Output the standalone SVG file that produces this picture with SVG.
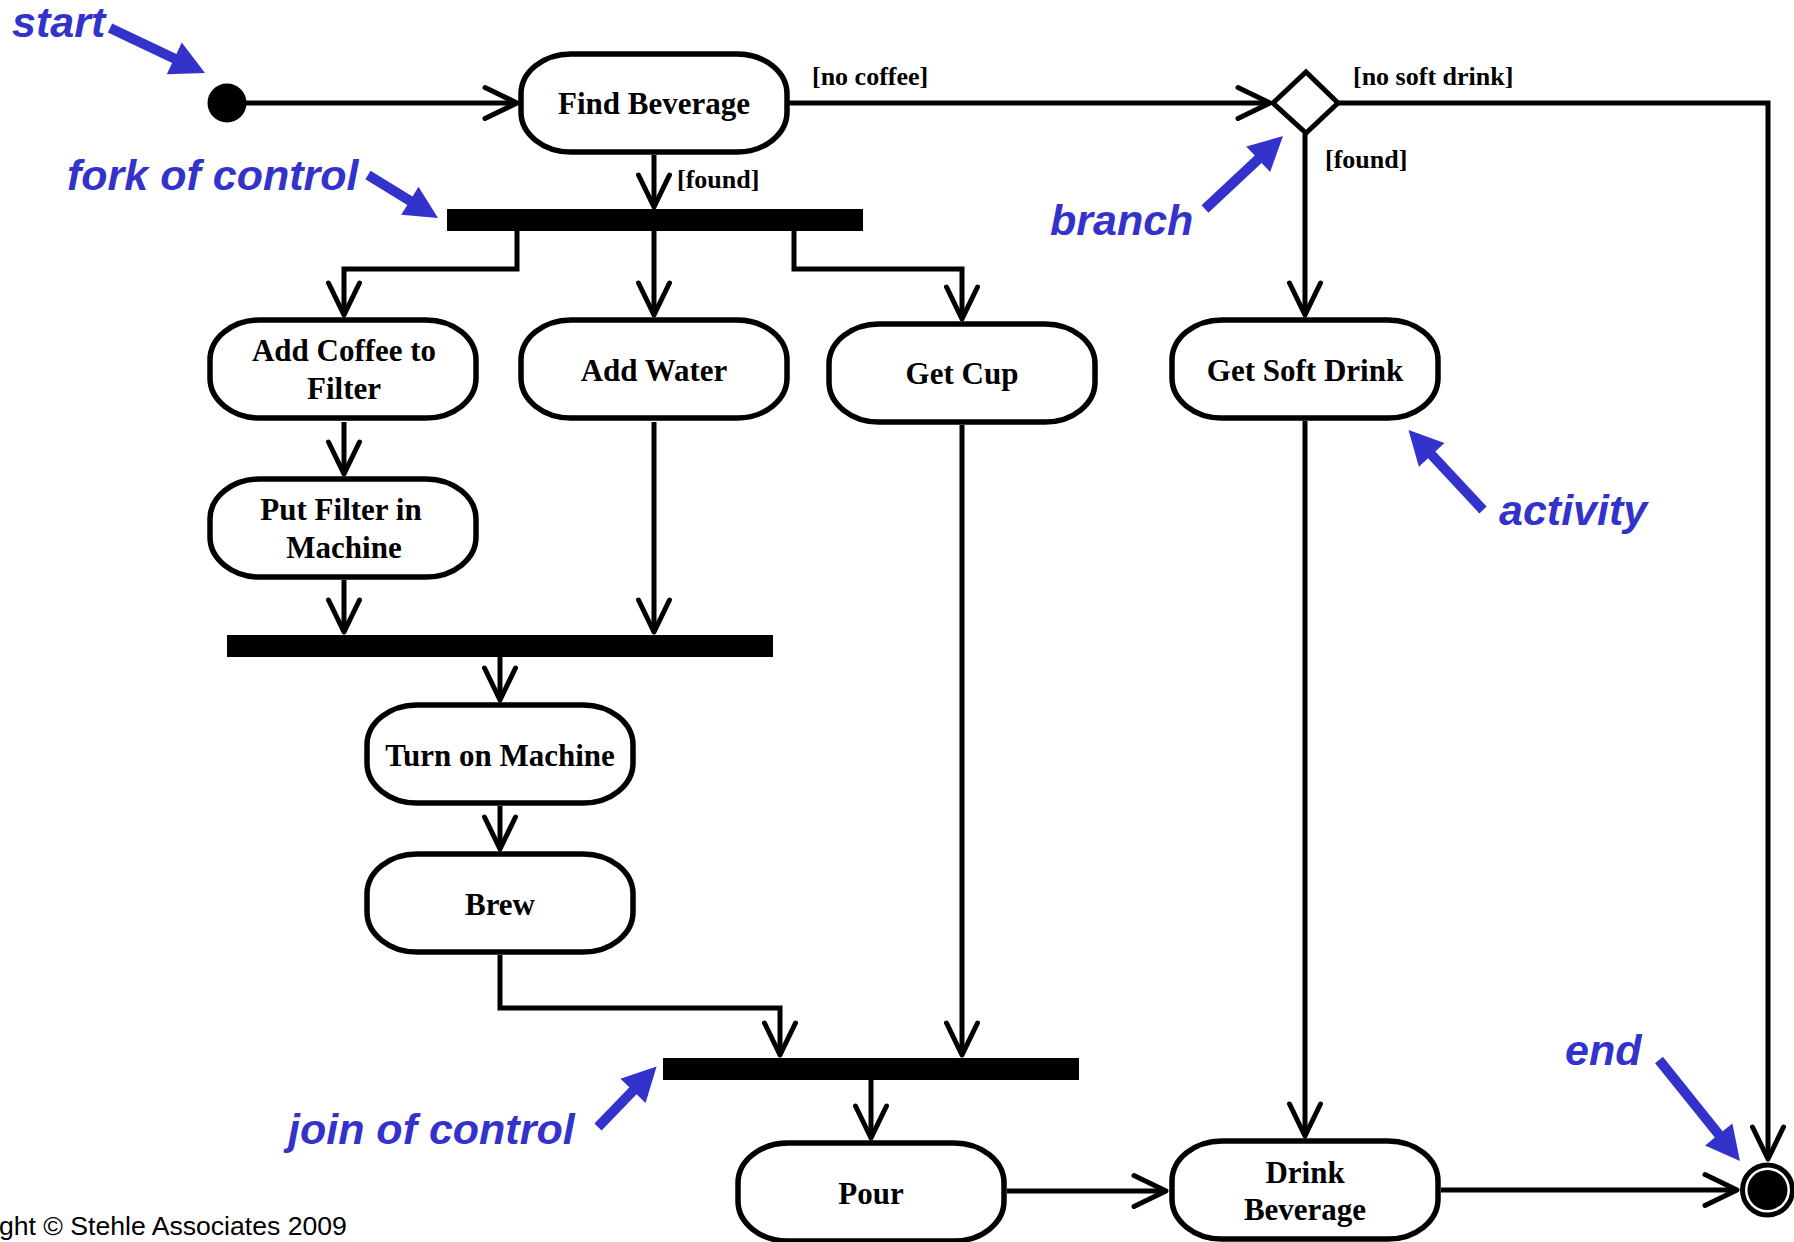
<svg xmlns="http://www.w3.org/2000/svg" width="1794" height="1242" viewBox="0 0 1794 1242">
<style>
.box{fill:#fff;stroke:#000;stroke-width:5.5}
.lbl{font-family:"Liberation Serif","Times New Roman",serif;font-weight:bold;font-size:31px;text-anchor:middle;fill:#000}
.guard{font-family:"Liberation Serif","Times New Roman",serif;font-weight:bold;font-size:26px;fill:#000}
.conn{fill:none;stroke:#000;stroke-width:5;stroke-linejoin:miter;marker-end:url(#arr)}
.bar{fill:#000}
.note{font-family:"Liberation Sans",Arial,sans-serif;font-style:italic;font-weight:bold;font-size:43px;fill:#3333CC}
.blue{fill:#3333CC}
.copy{font-family:"Liberation Sans",Arial,sans-serif;font-size:26.6px;fill:#000}
</style>
<defs>
<marker id="arr" markerUnits="userSpaceOnUse" viewBox="-40 -20 44 40" refX="0" refY="0" markerWidth="44" markerHeight="40" orient="auto" overflow="visible">
<path d="M-32,-15.5 L0,0 L-32,15.5" fill="none" stroke="#000" stroke-width="5" stroke-linecap="round" stroke-linejoin="round"/>
</marker>
</defs>
<rect width="1794" height="1242" fill="#fff"/>

<g id="connectors">
<path class="conn" d="M246,103 H517"/>
<path class="conn" d="M789,103 H1270"/>
<path class="conn" d="M654,155 V207"/>
<path class="conn" d="M517,231 V269 H344 V315"/>
<path class="conn" d="M654,231 V315"/>
<path class="conn" d="M794,231 V269 H962 V319"/>
<path class="conn" d="M344,422 V474"/>
<path class="conn" d="M344,580 V632"/>
<path class="conn" d="M654,422 V632"/>
<path class="conn" d="M500,657 V700"/>
<path class="conn" d="M500,806 V849"/>
<path class="conn" d="M500,955 V1008 H780 V1055"/>
<path class="conn" d="M962,425 V1055"/>
<path class="conn" d="M871,1080 V1138"/>
<path class="conn" d="M1007,1191 H1166"/>
<path class="conn" d="M1441,1190 H1737"/>
<path class="conn" d="M1305,134 V315"/>
<path class="conn" d="M1305,421 V1136"/>
<path class="conn" d="M1338,103 H1768 V1159"/>
<text class="guard" x="812" y="85">[no coffee]</text>
<text class="guard" x="677" y="188">[found]</text>
<text class="guard" x="1353" y="85">[no soft drink]</text>
<text class="guard" x="1325" y="168">[found]</text>
</g>

<g id="start"><circle cx="227" cy="103" r="19.5" fill="#000"/></g>

<g id="find-beverage">
<rect class="box" x="521" y="54" width="266" height="98" rx="50" ry="40"/>
<text class="lbl" x="654" y="114">Find Beverage</text>
</g>

<g id="decision"><polygon points="1273,103 1306,72 1338,103 1306,133" fill="#fff" stroke="#000" stroke-width="5"/></g>

<g id="fork-bar"><rect class="bar" x="447" y="209" width="416" height="22"/></g>

<g id="add-coffee">
<rect class="box" x="210" y="320" width="266" height="98" rx="50" ry="40"/>
<text class="lbl" x="344" y="361">Add Coffee to</text>
<text class="lbl" x="344" y="399">Filter</text>
</g>

<g id="add-water">
<rect class="box" x="521" y="320" width="266" height="98" rx="50" ry="40"/>
<text class="lbl" x="654" y="381">Add Water</text>
</g>

<g id="get-cup">
<rect class="box" x="829" y="324" width="266" height="98" rx="50" ry="40"/>
<text class="lbl" x="962" y="384">Get Cup</text>
</g>

<g id="get-soft-drink">
<rect class="box" x="1172" y="320" width="266" height="98" rx="50" ry="40"/>
<text class="lbl" x="1305" y="381">Get Soft Drink</text>
</g>

<g id="put-filter">
<rect class="box" x="210" y="479" width="266" height="98" rx="50" ry="40"/>
<text class="lbl" x="341" y="520">Put Filter in</text>
<text class="lbl" x="344" y="558">Machine</text>
</g>

<g id="join-bar-1"><rect class="bar" x="227" y="635" width="546" height="22"/></g>

<g id="turn-on-machine">
<rect class="box" x="367" y="705" width="266" height="98" rx="50" ry="40"/>
<text class="lbl" x="500" y="766">Turn on Machine</text>
</g>

<g id="brew">
<rect class="box" x="367" y="854" width="266" height="98" rx="50" ry="40"/>
<text class="lbl" x="500" y="915">Brew</text>
</g>

<g id="join-bar-2"><rect class="bar" x="663" y="1058" width="416" height="22"/></g>

<g id="pour">
<rect class="box" x="738" y="1143" width="266" height="98" rx="50" ry="40"/>
<text class="lbl" x="871" y="1204">Pour</text>
</g>

<g id="drink-beverage">
<rect class="box" x="1172" y="1141" width="266" height="98" rx="50" ry="40"/>
<text class="lbl" x="1305" y="1183">Drink</text>
<text class="lbl" x="1305" y="1220">Beverage</text>
</g>

<g id="end">
<circle cx="1767.5" cy="1190" r="25" fill="#fff" stroke="#000" stroke-width="5"/>
<circle cx="1767.5" cy="1190" r="20" fill="#000"/>
</g>

<g id="annotations">
<text class="note" x="12" y="37">start</text>
<polygon class="blue" points="107.86,32.52 172.13,62.96 166.78,74.26 205,73 181.76,42.62 176.41,53.92 112.14,23.48"/>
<text class="note" x="67" y="190">fork of control</text>
<polygon class="blue" points="365.38,179.26 407.26,204.99 401.24,214.79 438,218 418.52,186.67 412.5,196.47 370.62,170.74"/>
<text class="note" x="1050" y="235">branch</text>
<polygon class="blue" points="1208.42,212.65 1261.6,162.88 1270.14,172.01 1283,136 1246.22,146.45 1254.76,155.58 1201.58,205.35"/>
<text class="note" x="1499" y="525">activity</text>
<polygon class="blue" points="1486.66,506.59 1435.33,451.47 1444.48,442.95 1408.5,430 1418.86,466.81 1428.01,458.29 1479.34,513.41"/>
<text class="note" x="288" y="1144">join of control</text>
<polygon class="blue" points="601.59,1130.48 636.56,1094.32 645.55,1103 656.6,1066.4 620.39,1078.68 629.38,1087.36 594.41,1123.52"/>
<text class="note" x="1565" y="1065">end</text>
<polygon class="blue" points="1655.1,1063.13 1714.83,1137.61 1705.08,1145.43 1740,1161 1732.38,1123.53 1722.63,1131.35 1662.9,1056.87"/>
</g>

<text class="copy" x="-1" y="1235">ght © Stehle Associates 2009</text>
</svg>
